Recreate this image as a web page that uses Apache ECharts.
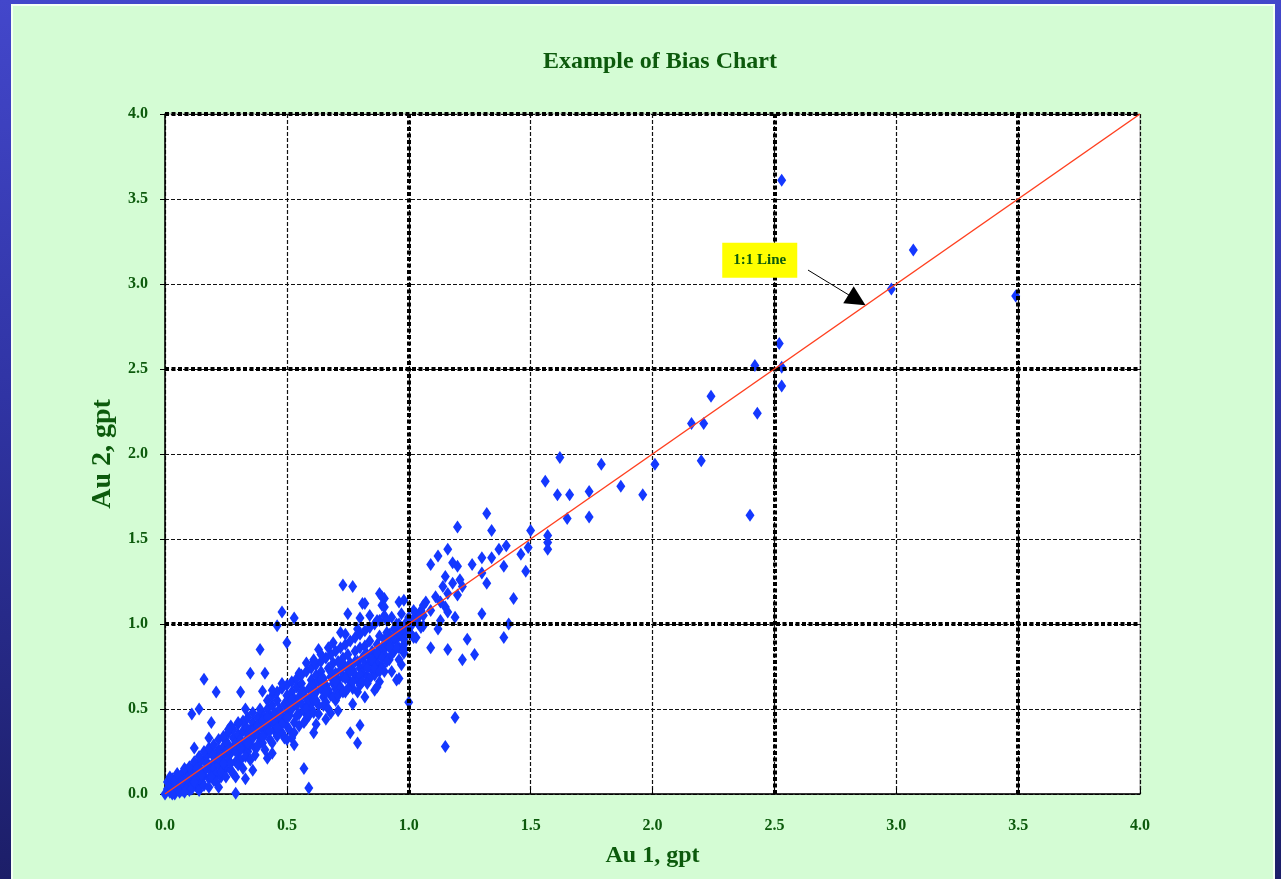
<!DOCTYPE html>
<html><head><meta charset="utf-8">
<script src="https://cdn.jsdelivr.net/npm/echarts@6/dist/echarts.min.js"></script>
<style>
html,body{margin:0;padding:0;width:1281px;height:879px;overflow:hidden;background:linear-gradient(180deg,#4347cb 0%,#3034a4 45%,#1c1e68 100%);}
#panel{position:absolute;left:11px;top:4px;width:1264px;height:880px;box-sizing:border-box;background:#d4fcd4;border:2px solid #f4fff4;border-bottom:none;}
#chart{position:absolute;left:0;top:0;width:1281px;height:879px;}
</style></head><body><div id="panel"></div><div id="chart"></div>
<script>
// Au 1 (x) vs Au 2 (y), gpt — main cloud along the 1:1 line (core)
const bandPoints = [
[0.00,0.00],[0.01,0.03],[0.01,0.07],[0.02,0.01],[0.02,0.05],[0.03,0.02],[0.03,0.09],[0.04,0.04],[0.04,0.00],[0.05,0.07],[0.05,0.03],[0.06,0.10],[0.06,0.05],[0.07,0.02],[0.07,0.12],[0.08,0.06],[0.08,0.09],[0.09,0.04],[0.09,0.14],[0.10,0.08],[0.10,0.11],[0.10,0.02],
[0.11,0.13],[0.11,0.06],[0.12,0.10],[0.12,0.16],[0.13,0.04],[0.13,0.12],[0.14,0.18],[0.14,0.09],[0.15,0.14],[0.15,0.07],[0.16,0.20],[0.16,0.11],[0.17,0.15],[0.17,0.22],[0.18,0.09],[0.18,0.17],[0.19,0.13],[0.19,0.24],[0.20,0.19],[0.20,0.08],[0.20,0.15],
[0.21,0.22],[0.21,0.12],[0.22,0.26],[0.22,0.17],[0.23,0.20],[0.23,0.10],[0.24,0.28],[0.24,0.23],[0.25,0.15],[0.25,0.31],[0.25,0.25],[0.26,0.20],[0.26,0.29],[0.27,0.24],[0.27,0.14],[0.28,0.33],[0.28,0.27],[0.29,0.19],[0.29,0.30],[0.30,0.24],[0.30,0.35],[0.30,0.28],
[0.31,0.32],[0.31,0.20],[0.32,0.37],[0.32,0.27],[0.33,0.31],[0.33,0.40],[0.34,0.25],[0.34,0.35],[0.35,0.38],[0.35,0.29],[0.36,0.42],[0.36,0.33],[0.37,0.27],[0.37,0.39],[0.38,0.45],[0.38,0.35],[0.39,0.31],[0.39,0.41],[0.40,0.38],[0.40,0.47],[0.40,0.30],
[0.41,0.43],[0.41,0.35],[0.42,0.50],[0.42,0.40],[0.43,0.32],[0.43,0.46],[0.44,0.42],[0.44,0.52],[0.45,0.37],[0.45,0.48],[0.46,0.44],[0.46,0.55],[0.47,0.40],[0.47,0.50],[0.48,0.46],[0.48,0.36],[0.49,0.53],[0.49,0.43],[0.50,0.49],[0.50,0.58],[0.50,0.40],
[0.51,0.46],[0.51,0.54],[0.52,0.60],[0.52,0.50],[0.53,0.42],[0.53,0.56],[0.54,0.52],[0.54,0.63],[0.55,0.47],[0.55,0.57],[0.56,0.53],[0.56,0.65],[0.57,0.49],[0.57,0.60],[0.58,0.56],[0.58,0.44],[0.59,0.62],[0.59,0.53],[0.60,0.58],[0.60,0.67],[0.60,0.50],
[0.61,0.55],[0.61,0.64],[0.62,0.70],[0.62,0.60],[0.63,0.52],[0.63,0.66],[0.64,0.62],[0.64,0.72],[0.65,0.57],[0.65,0.68],[0.66,0.64],[0.66,0.54],[0.67,0.74],[0.67,0.61],[0.68,0.69],[0.68,0.58],[0.69,0.65],[0.69,0.77],[0.70,0.71],[0.70,0.62],[0.70,0.55],
[0.71,0.67],[0.71,0.78],[0.72,0.73],[0.72,0.63],[0.73,0.80],[0.73,0.69],[0.74,0.60],[0.74,0.75],[0.75,0.71],[0.75,0.82],[0.76,0.66],[0.76,0.77],[0.77,0.73],[0.77,0.62],[0.78,0.84],[0.78,0.70],[0.79,0.78],[0.79,0.67],[0.80,0.74],[0.80,0.86],[0.80,0.64],
[0.81,0.80],[0.81,0.71],[0.82,0.87],[0.82,0.76],[0.83,0.69],[0.83,0.82],[0.84,0.78],[0.84,0.90],[0.85,0.73],[0.85,0.84],[0.86,0.80],[0.86,0.70],[0.87,0.88],[0.87,0.77],[0.88,0.83],[0.88,0.93],[0.89,0.75],[0.89,0.86],[0.90,0.82],[0.90,0.91],[0.90,0.72],
[0.91,0.87],[0.92,0.94],[0.92,0.79],[0.93,0.89],[0.94,0.84],[0.94,0.97],[0.95,0.91],[0.96,0.86],[0.96,1.00],[0.97,0.93],[0.98,0.97],[0.98,0.88],[0.99,1.01],[1.00,0.95],[1.00,1.04],[1.01,0.99],[1.02,1.03],[1.02,0.92],[1.03,1.06],[1.04,1.00],[1.05,1.08]
];
// outer edges of the main cloud
const bandEdgePoints = [
[0.02,0.10],[0.03,0.00],[0.04,0.08],[0.05,0.12],[0.06,0.01],[0.07,0.07],[0.08,0.15],[0.08,0.01],[0.09,0.09],[0.10,0.16],[0.11,0.03],[0.12,0.19],[0.12,0.07],[0.13,0.15],[0.14,0.02],[0.14,0.22],[0.15,0.11],[0.16,0.05],[0.16,0.25],[0.17,0.18],
[0.18,0.04],[0.18,0.27],[0.19,0.10],[0.20,0.23],[0.20,0.29],[0.21,0.07],[0.22,0.21],[0.22,0.32],[0.23,0.13],[0.24,0.18],[0.24,0.34],[0.25,0.10],[0.26,0.26],[0.26,0.36],[0.27,0.18],[0.28,0.12],[0.28,0.38],[0.29,0.25],[0.30,0.17],[0.30,0.41],
[0.31,0.27],[0.32,0.15],[0.32,0.43],[0.33,0.22],[0.34,0.30],[0.34,0.45],[0.35,0.20],[0.36,0.37],[0.36,0.48],[0.37,0.23],[0.38,0.40],[0.38,0.28],[0.39,0.50],[0.40,0.34],[0.40,0.43],[0.41,0.26],[0.42,0.45],[0.42,0.55],[0.43,0.37],[0.44,0.30],
[0.44,0.58],[0.45,0.43],[0.46,0.34],[0.46,0.60],[0.47,0.46],[0.48,0.41],[0.48,0.62],[0.49,0.33],[0.50,0.45],[0.50,0.64],[0.51,0.38],[0.52,0.55],[0.52,0.66],[0.53,0.36],[0.54,0.46],[0.54,0.68],[0.55,0.40],[0.56,0.60],[0.56,0.70],[0.57,0.42],
[0.58,0.50],[0.58,0.72],[0.59,0.46],[0.60,0.63],[0.60,0.74],[0.61,0.48],[0.62,0.55],[0.62,0.76],[0.63,0.47],[0.64,0.67],[0.64,0.78],[0.65,0.52],[0.66,0.60],[0.66,0.80],[0.67,0.50],[0.68,0.72],[0.68,0.82],[0.69,0.57],[0.70,0.66],[0.70,0.84],
[0.71,0.58],[0.72,0.77],[0.72,0.86],[0.73,0.60],[0.74,0.68],[0.74,0.88],[0.75,0.62],[0.76,0.72],[0.76,0.90],[0.77,0.66],[0.78,0.78],[0.78,0.92],[0.79,0.60],[0.80,0.70],[0.80,0.94],[0.81,0.66],[0.82,0.82],[0.82,0.96],[0.83,0.74],[0.84,0.68],
[0.84,0.98],[0.85,0.79],[0.86,0.74],[0.86,1.00],[0.87,0.83],[0.88,0.72],[0.88,1.02],[0.89,0.80],[0.90,0.87],[0.90,1.05],[0.91,0.78],[0.92,0.90],[0.93,0.82],[0.93,1.04],[0.94,0.92],[0.95,0.86],[0.96,0.95],[0.97,1.06],[0.98,0.91],[0.99,0.96],
[1.00,1.00],[1.01,0.94],[1.02,1.08],[1.04,1.04],[1.05,0.98],[1.06,1.05]
];
// loose halo just outside the main cloud
const haloPoints = [
[0.12,0.27],[0.18,0.33],[0.22,0.04],[0.27,0.40],[0.33,0.50],[0.36,0.14],[0.42,0.21],[0.44,0.61],[0.48,0.65],[0.46,0.39],[0.50,0.32],[0.55,0.71],[0.53,0.29],[0.58,0.77],[0.61,0.79],[0.62,0.41],
[0.63,0.85],[0.66,0.44],[0.69,0.89],[0.71,0.49],[0.74,0.94],[0.77,0.53],[0.79,0.97],[0.82,0.57],[0.84,1.05],[0.86,0.61],[0.88,1.18],[0.90,1.15],[0.81,1.12],[0.96,1.13],[0.88,0.66],[0.93,0.72],[0.97,0.76]
];
// scattered pairs below Au 1 = 1.0
const spreadPoints = [
[0.73,1.23],[0.77,1.22],[0.89,1.16],[0.89,1.11],[0.82,1.12],[0.98,1.14],[0.75,1.06],[0.80,1.035],[0.48,1.07],[0.53,1.035],[0.46,0.99],[0.50,0.89],[0.39,0.85],[0.72,0.95],[0.87,1.02],[0.91,1.02],
[0.35,0.71],[0.41,0.71],[0.16,0.675],[0.21,0.60],[0.31,0.60],[0.40,0.605],[0.11,0.47],[0.14,0.50],[0.19,0.42],[0.30,0.42],[0.57,0.15],[0.59,0.035],[0.29,0.005],[0.96,0.79],[0.98,0.85],[0.95,0.67],
[0.87,0.63],[0.83,0.65],[0.80,0.405],[0.79,0.30],[0.76,0.36],[0.61,0.36],[0.68,0.475],[0.26,0.38],[0.52,0.33],[0.33,0.09],[0.29,0.10],[0.44,0.24],[0.64,0.82],[0.67,0.86],[0.61,0.78],
[0.90,1.10],[0.95,1.00],[0.91,0.95],[0.92,0.865],[0.98,0.83],[0.96,0.68],[1.00,0.54]
];
// scattered pairs above Au 1 = 1.0
const upperPoints = [
[2.53,3.61],[3.07,3.20],[2.98,2.97],[3.49,2.93],[2.52,2.65],[2.42,2.52],[2.53,2.51],[2.53,2.40],[2.43,2.24],[2.24,2.34],[2.16,2.18],[2.21,2.18],[2.20,1.96],[2.01,1.94],[1.96,1.76],[1.87,1.81],
[1.79,1.94],[1.74,1.78],[1.74,1.63],[2.40,1.64],[1.62,1.98],[1.66,1.76],[1.61,1.76],[1.65,1.62],[1.56,1.84],[1.57,1.52],[1.50,1.55],[1.57,1.48],[1.57,1.44],[1.32,1.65],[1.20,1.57],[1.34,1.55],
[1.16,1.44],[1.12,1.40],[1.09,1.35],[1.40,1.46],[1.37,1.44],[1.30,1.39],[1.34,1.39],[1.49,1.45],[1.46,1.41],[1.26,1.35],[1.20,1.34],[1.39,1.34],[1.30,1.30],[1.32,1.24],[1.48,1.31],[1.43,1.15],
[1.15,1.28],[1.21,1.26],[1.18,1.24],[1.14,1.22],[1.22,1.22],[1.16,1.18],[1.20,1.17],[1.13,1.13],[1.07,1.13],[1.15,1.10],[1.06,1.11],[1.09,1.08],[1.16,1.07],[1.19,1.04],[1.30,1.06],[1.41,1.00],
[1.13,1.02],[1.06,0.99],[1.12,0.97],[1.24,0.91],[1.39,0.92],[1.09,0.86],[1.16,0.85],[1.22,0.79],[1.27,0.82],[1.19,0.45],[1.15,0.28],[1.11,1.16],[1.18,1.36],[1.03,0.92]
];
const oneToOne = [[0,0],[4,4]];
const axisTicks = ['0.0','0.5','1.0','1.5','2.0','2.5','3.0','3.5','4.0'];
const majorX = [1.0, 2.5, 3.5];
const majorY = [1.0, 2.5, 4.0];
const calloutBox = [2.44, 3.14];
const arrowFrom = [2.638, 3.082];
const arrowTo = [2.839, 2.906];

const font = "'Liberation Serif','Times New Roman',serif";
const green = '#0c5a0c';
const chart = echarts.init(document.getElementById('chart'));
const labelStyle = {fontFamily: font, fontWeight: 'bold', fontSize: 16, color: green,
  formatter: v => axisTicks[Math.round(v / 0.5)]};
const thinGrid = {show: true, lineStyle: {color: '#111', width: 1.2, type: [4, 2]}};

chart.setOption({
  animation: false,
  title: {text: 'Example of Bias Chart', left: 538, top: 45,
    textStyle: {fontFamily: font, fontWeight: 'bold', fontSize: 24, color: green}},
  grid: {left: 165, right: 141, top: 114, bottom: 85, show: true, backgroundColor: '#fff', borderColor: '#a0a0a0', borderWidth: 1},
  xAxis: {type: 'value', min: 0, max: 4, interval: 0.5,
    name: 'Au 1, gpt', nameLocation: 'middle', nameGap: 50,
    nameTextStyle: {fontFamily: font, fontWeight: 'bold', fontSize: 24, color: green},
    axisLine: {show: true, onZero: false, lineStyle: {color: '#000', width: 1.5}},
    axisTick: {show: true, inside: true, length: 6, lineStyle: {color: '#000'}},
    axisLabel: Object.assign({margin: 24}, labelStyle),
    splitLine: thinGrid},
  yAxis: {type: 'value', min: 0, max: 4, interval: 0.5,
    name: 'Au 2, gpt', nameLocation: 'middle', nameGap: 44,
    nameTextStyle: {fontFamily: font, fontWeight: 'bold', fontSize: 28, color: green},
    axisLine: {show: true, onZero: false, lineStyle: {color: '#000', width: 1.5}},
    axisTick: {show: true, inside: false, length: 5, lineStyle: {color: '#000'}},
    axisLabel: Object.assign({margin: 17}, labelStyle),
    splitLine: thinGrid},
  series: [
    {type: 'scatter', data: [].concat(bandPoints, bandEdgePoints, haloPoints, spreadPoints, upperPoints), symbol: 'diamond', symbolSize: [9, 13],
      itemStyle: {color: '#1438ff', opacity: 1}, clip: false, z: 3, silent: true, large: false},
    {type: 'scatter', data: [], z: 4, silent: true,
      markLine: {silent: true, symbol: 'none', label: {show: false},
        lineStyle: {color: '#000', width: 4, type: [4, 2.5]},
        data: majorX.map(v => ({xAxis: v})).concat(majorY.map(v => ({yAxis: v})))}},
    {type: 'line', data: oneToOne, showSymbol: false, silent: true, z: 5,
      lineStyle: {color: '#ff4020', width: 1.5},
      markLine: {silent: true, symbol: ['none', 'triangle'], symbolSize: 20, label: {show: false},
        lineStyle: {color: '#000', width: 1, type: 'solid'}, itemStyle: {color: '#000'},
        data: [[{coord: arrowFrom}, {coord: arrowTo}]]},
      markPoint: {silent: true, data: [{coord: calloutBox, symbol: 'rect', symbolSize: [75, 35],
        itemStyle: {color: '#ffff00'},
        label: {show: true, position: 'inside', formatter: '1:1 Line', fontFamily: font, fontWeight: 'bold', fontSize: 15, color: green}}]}}
  ]
});
</script></body></html>
